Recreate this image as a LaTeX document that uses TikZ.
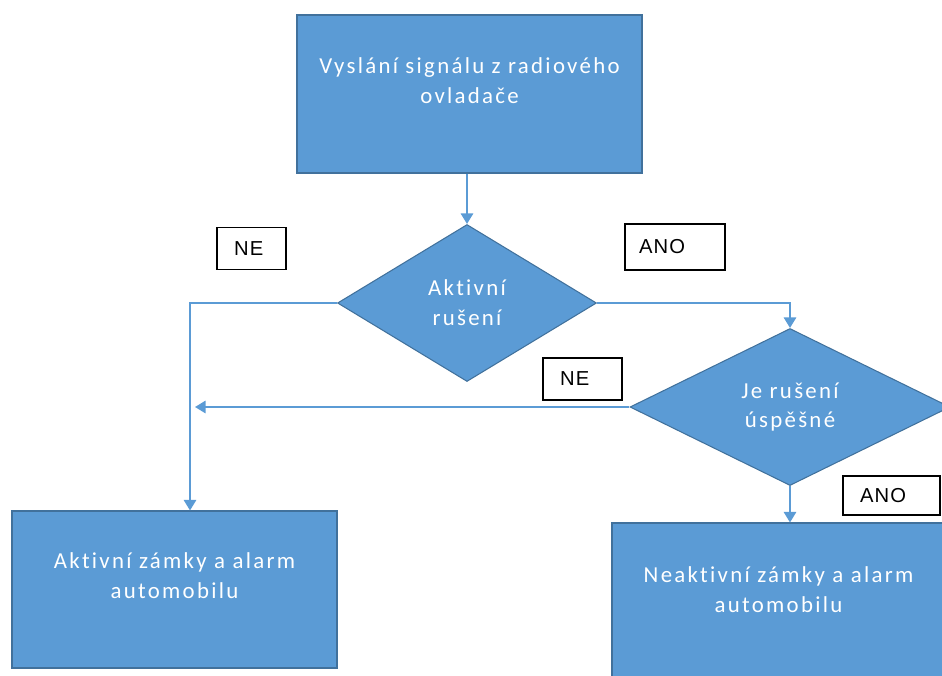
\documentclass[tikz,border=0pt]{standalone}
\usepackage{fontspec}
\setmainfont{Carlito}
\newfontfamily\boxfont[LetterSpace=10, Ligatures=NoCommon]{Carlito}
\newfontfamily\labelfont[LetterSpace=6]{Liberation Sans}
\usetikzlibrary{positioning, shapes.geometric, arrows.meta}
\definecolor{officeblue}{HTML}{5B9BD5}
\definecolor{officeedge}{HTML}{41719C}
\tikzset{
    process/.style={rectangle, draw=officeedge, fill=officeblue, text=white, align=center, line width=0.6pt, text depth=0.55cm, font=\boxfont\fontsize{13}{17}\selectfont},
    decision/.style={diamond, draw=officeedge, fill=officeblue, text=white, align=center, inner sep=0pt, line width=0.6pt, font=\boxfont\fontsize{13}{17}\selectfont},
    answer/.style={rectangle, draw=black, line width=0.9pt, align=left, inner xsep=0.34cm, font=\labelfont\fontsize{11.5}{14}\selectfont},
    arrow/.style={-{Triangle[width=7pt, length=6pt]}, draw=officeblue, line width=1.1pt}
}
\begin{document}
\begin{tikzpicture}
\useasboundingbox (0,0) rectangle (18.84,-13.5);
\clip (0,0) rectangle (18.84,-13.5);

% Signal box
\node (signal) [process, minimum width=6.9cm, minimum height=3.16cm] at (9.39,-1.88) {Vyslání signálu z radiového\\ovladače};

% First decision
\node (aktivni) [decision, minimum width=5.18cm, minimum height=3.14cm] at (9.34,-6.06) {Aktivní\\rušení};

% Second decision
\node (uspesne) [decision, minimum width=6.4cm, minimum height=3.14cm] at (15.8,-8.14) {Je rušení\\úspěšné};

% Results
\node (locked) [process, minimum width=6.5cm, minimum height=3.14cm] at (3.49,-11.79) {Aktivní zámky a alarm\\automobilu};
\node (unlocked) [process, minimum width=6.66cm, minimum height=3.2cm] at (15.57,-12.06) {Neaktivní zámky a alarm\\automobilu};

% Answer labels
\node (ne1) [answer, text width=0.7cm, minimum height=0.84cm] at (5.03,-4.97) {NE};
\node (ano1) [answer, text width=1.44cm, inner xsep=0.28cm, minimum height=0.92cm] at (13.5,-4.94) {ANO};
\node (ne2) [answer, text width=0.9cm, minimum height=0.84cm] at (11.65,-7.58) {NE};
\node (ano2) [answer, text width=1.26cm, minimum height=0.78cm] at (17.83,-9.91) {ANO};

\coordinate (join) at (3.9,-8.16);

% Arrows
\draw[arrow] (signal.south -| aktivni.north) -- (aktivni.north);
\draw[arrow] (aktivni.west) -| ([xshift=0.31cm]locked.north);
\draw[arrow] (aktivni.east) -| (uspesne.north);
\draw[arrow] (uspesne.west) -- (uspesne.west -| join);
\draw[arrow] (uspesne.south) -- (uspesne.south |- unlocked.north);

\end{tikzpicture}
\end{document}
